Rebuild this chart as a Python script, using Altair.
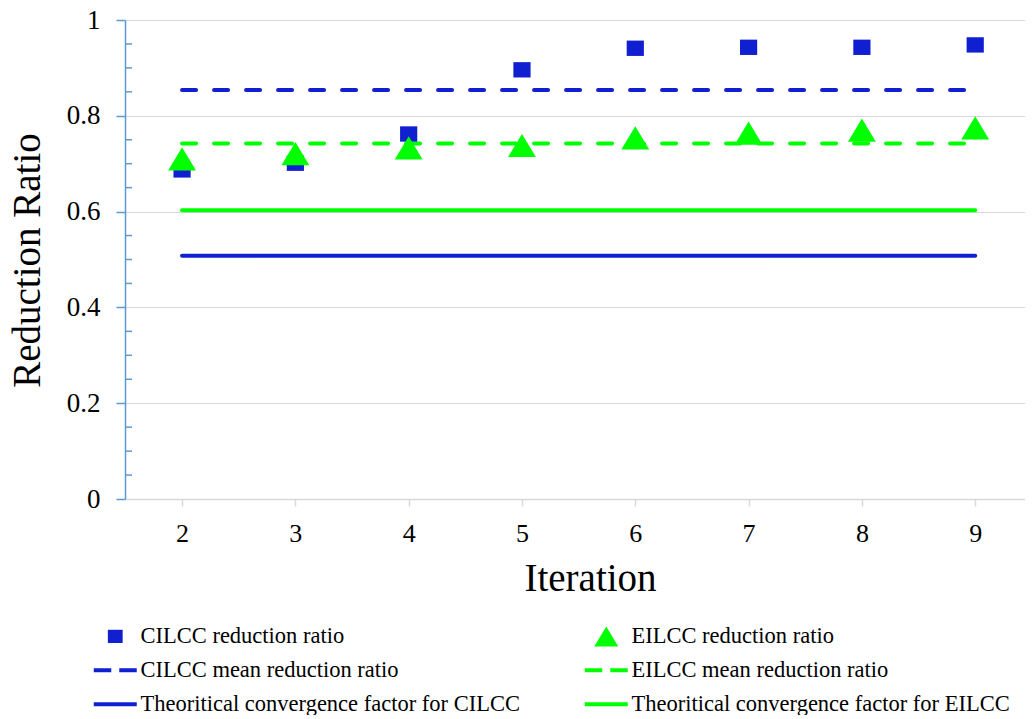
import altair as alt
import pandas as pd

# ---------------- data ----------------
iterations = [2, 3, 4, 5, 6, 7, 8, 9]
cilcc_ratio = [0.687, 0.701, 0.762, 0.896, 0.941, 0.943, 0.943, 0.948]
eilcc_ratio = [0.710, 0.721, 0.733, 0.738, 0.754, 0.764, 0.770, 0.775]
cilcc_mean = 0.854
eilcc_mean = 0.742
theory_cilcc = 0.508
theory_eilcc = 0.603
y_major = [0, 0.2, 0.4, 0.6, 0.8, 1.0]
y_minor = [0.05, 0.1, 0.15, 0.25, 0.3, 0.35, 0.45, 0.5, 0.55,
           0.65, 0.7, 0.75, 0.85, 0.9, 0.95]

series_names = [
    "CILCC reduction ratio",
    "EILCC reduction ratio",
    "CILCC mean reduction ratio",
    "EILCC mean reduction ratio",
    "Theoritical convergence factor for CILCC",
    "Theoritical convergence factor for EILCC",
]

# ---------------- styles ----------------
BLUE = "#1020D0"
GREEN = "#00FF00"
AXIS_BLUE = "#5B9BD5"
GRID = "#D9D9D9"
FONT = "Liberation Serif"

series_colors = [BLUE, GREEN, BLUE, GREEN, BLUE, GREEN]
series_shapes = [
    "M-0.74,-0.66H0.74V0.66H-0.74Z",
    "M0,-1L1.2,1L-1.2,1Z",
    "M-2.15,-0.2H-0.4V0.2H-2.15Z M0.4,-0.2H2.15V0.2H0.4Z",
    "M-2.15,-0.2H-0.4V0.2H-2.15Z M0.4,-0.2H2.15V0.2H0.4Z",
    "M-2.15,-0.2H2.15V0.2H-2.15Z",
    "M-2.15,-0.2H2.15V0.2H-2.15Z",
]

# ---------------- tables ----------------
points = pd.DataFrame(
    {"iteration": iterations * 2,
     "value": cilcc_ratio + eilcc_ratio,
     "series": [series_names[0]] * len(iterations) + [series_names[1]] * len(iterations)}
)
line_vals = {
    series_names[2]: cilcc_mean,
    series_names[3]: eilcc_mean,
    series_names[4]: theory_cilcc,
    series_names[5]: theory_eilcc,
}
lines = pd.DataFrame(
    [{"iteration": it, "value": v, "series": s} for s, v in line_vals.items() for it in iterations]
)
minor = pd.DataFrame({"value": y_minor})

x_scale = alt.Scale(padding=0.4715, align=0.534)
y_scale = alt.Scale(domain=[0, 1], nice=False)

x_enc = alt.X(
    "iteration:O", scale=x_scale,
    axis=alt.Axis(
        title="Iteration", labelAngle=0, labelFont=FONT, labelFontSize=26,
        labelColor="black", labelPadding=14, tickSize=7, tickColor=GRID,
        domainColor=GRID, domainWidth=1.5, tickWidth=1.5,
        titleFont=FONT, titleFontSize=39, titleFontWeight="normal",
        titleColor="black", titleX=465, titleY=91, titleBaseline="alphabetic",
        titleAnchor="middle", grid=False,
    ),
)
y_enc = alt.Y(
    "value:Q", scale=y_scale,
    axis=alt.Axis(
        title="Reduction Ratio", values=y_major, format=".1~f",
        labelFont=FONT, labelFontSize=27, labelColor="black", labelPadding=16,
        tickSize=9, tickColor=AXIS_BLUE, tickWidth=1.5,
        domainColor=AXIS_BLUE, domainWidth=1.5,
        grid=True, gridColor=GRID, gridWidth=1.2,
        titleFont=FONT, titleFontSize=39, titleFontWeight="normal",
        titleColor="black", titleX=-86, titleY=240, titleAngle=-90,
        titleBaseline="alphabetic", titleAlign="center",
    ),
)

minor_ticks = alt.Chart(minor).mark_rule(color=AXIS_BLUE, strokeWidth=1.5).encode(
    y=alt.Y("value:Q", scale=y_scale),
    x=alt.value(0),
    x2=alt.value(7),
)

def line_layer(name, color, dashed):
    kw = dict(color=color, strokeWidth=4, strokeCap="round")
    if dashed:
        kw["strokeDash"] = [14, 18]
    return alt.Chart(lines).transform_filter(
        alt.datum.series == name
    ).mark_line(**kw).encode(x=x_enc, y=y_enc)

legend = alt.Legend(
    title=None, orient="none", legendX=-32, legendY=605, columns=2,
    direction="horizontal",
    symbolSize=400, symbolOffset=11, labelOffset=14, symbolStrokeWidth=0,
    labelFont=FONT, labelFontSize=22.5, labelColor="black", labelLimit=600,
    rowPadding=11, columnPadding=64, padding=0,
)

pts = alt.Chart(points).mark_point(filled=True, size=540, opacity=1).encode(
    x=x_enc,
    y=y_enc,
    color=alt.Color("series:N", scale=alt.Scale(domain=series_names, range=series_colors), legend=legend),
    shape=alt.Shape("series:N", scale=alt.Scale(domain=series_names, range=series_shapes), legend=legend),
    order=alt.Order("series:N"),
)

chart = alt.layer(
    minor_ticks,
    line_layer(series_names[2], BLUE, True),
    line_layer(series_names[3], GREEN, True),
    line_layer(series_names[4], BLUE, False),
    line_layer(series_names[5], GREEN, False),
    pts,
).properties(
    width=900, height=479,
    padding={"left": 117, "top": 12, "right": 0, "bottom": 216},
    autosize=alt.AutoSizeParams(type="none"),
    background="white",
).configure_view(stroke=None)

chart.save("out.html", embed_options={"renderer": "svg", "actions": False})
